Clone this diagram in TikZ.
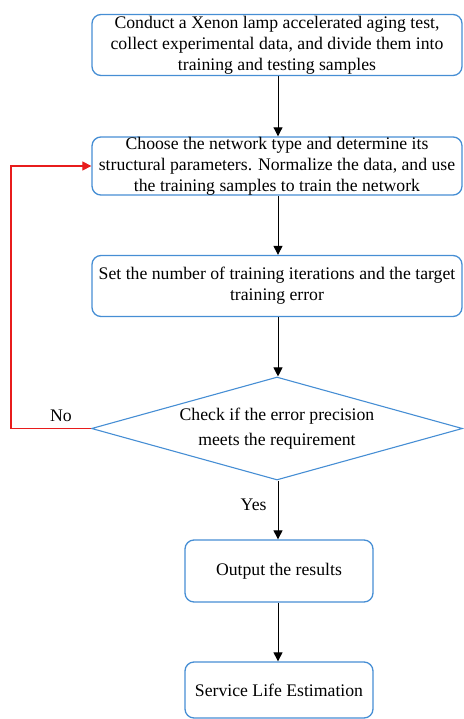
\documentclass[tikz,border=0pt]{standalone}
\usepackage{fontspec}
\setmainfont{Liberation Serif}
\usetikzlibrary{shapes.geometric,arrows.meta}
\definecolor{boxblue}{RGB}{70,142,212}
\definecolor{loopred}{RGB}{232,28,28}
\tikzset{
  stepbox/.style={draw=boxblue, line width=1.3pt, rounded corners=9pt, align=center,
    font=\fontsize{17.7}{21}\selectfont, inner sep=0pt},
  decision/.style={draw=boxblue, line width=1.1pt, diamond, align=center, inner sep=0pt,
    font=\fontsize{17.7}{25}\selectfont},
  flow/.style={draw=black, line width=1pt, -{Triangle[length=9pt,width=9pt]}},
  back/.style={draw=loopred, line width=1.2pt, -{Triangle[length=9pt,width=9pt]}},
  lbl/.style={font=\fontsize{17.7}{20}\selectfont, inner sep=0pt}
}
\begin{document}
\begin{tikzpicture}[x=1pt,y=-1pt]
\useasboundingbox (0,0) rectangle (463,719);

\node[stepbox, minimum width=370pt, minimum height=61pt] (collect) at (277,45)
  {Conduct a Xenon lamp accelerated aging test,\\collect experimental data, and divide them into\\training and testing samples};
\node[stepbox, minimum width=370pt, minimum height=58pt] (train) at (277,166)
  {Choose the network type and determine its\\structural parameters. Normalize the data, and use\\the training samples to train the network};
\node[stepbox, minimum width=370pt, minimum height=61pt] (iter) at (277,286)
  {Set the number of training iterations and the target\\training error};
\node[decision, minimum width=371pt, minimum height=103pt, aspect=3.6] (check) at (277,428.5)
  {Check if the error precision\\meets the requirement};
\node[stepbox, minimum width=188pt, minimum height=62pt] (output) at (279,571)
  {Output the results};
\node[stepbox, minimum width=188pt, minimum height=56pt] (life) at (279,690)
  {Service Life Estimation};

\coordinate (loopcorner) at (11,0);

\draw[flow] (collect.south -| 278,0) -- (train.north -| 278,0);
\draw[flow] (train.south -| 278,0) -- (iter.north -| 278,0);
\draw[flow] (iter.south -| 278,0) -- (check.north -| 278,0);
\draw[flow] (check.south -| 278,0) -- (output.north -| 278,0)
  node[pos=0.42, left=11pt, lbl] (yes) {Yes};
\draw[flow] (output.south -| 278,0) -- (life.north -| 278,0);
\draw[back] (check.west) -- (check.west -| loopcorner) -- (train.west -| loopcorner) -- (train.west);

\node[lbl] (no) at (61,416) {No};
\end{tikzpicture}
\end{document}
